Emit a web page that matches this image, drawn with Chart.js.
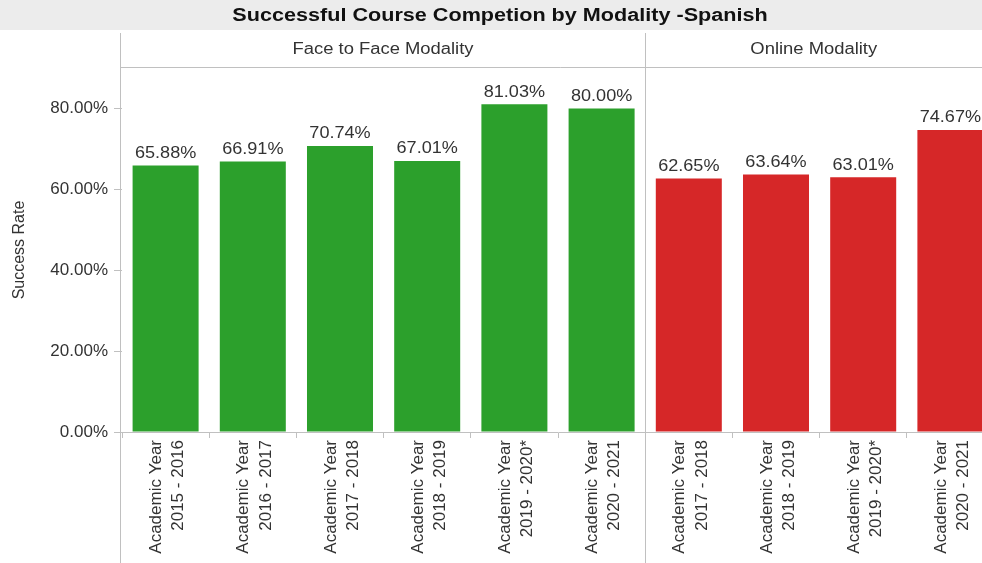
<!DOCTYPE html>
<html>
<head>
<meta charset="utf-8">
<script src="https://cdn.jsdelivr.net/npm/chart.js@4.4.1/dist/chart.umd.min.js"></script>
<style>
  html, body { margin: 0; padding: 0; background: #fff; overflow: hidden; }
  #wrap { width: 982px; height: 563px; overflow: hidden; position: relative; }
  canvas { position: absolute; left: 0; top: 0; }
</style>
</head>
<body>
<div id="wrap"><canvas id="myChart" width="1000" height="563"></canvas></div>
<script>
// chart data
const chartTitle = 'Successful Course Competion by Modality -Spanish';
const panelNames = ['Face to Face Modality', 'Online Modality'];
const faceYears = [
  ['Academic Year', '2015 - 2016'],
  ['Academic Year', '2016 - 2017'],
  ['Academic Year', '2017 - 2018'],
  ['Academic Year', '2018 - 2019'],
  ['Academic Year', '2019 - 2020*'],
  ['Academic Year', '2020 - 2021']
];
const faceRates = [65.88, 66.91, 70.74, 67.01, 81.03, 80.00];
const onlineYears = [
  ['Academic Year', '2017 - 2018'],
  ['Academic Year', '2018 - 2019'],
  ['Academic Year', '2019 - 2020*'],
  ['Academic Year', '2020 - 2021']
];
const onlineRates = [62.65, 63.64, 63.01, 74.67];
const yTicks = [0, 20, 40, 60, 80];

const faceColor = '#2ca02c';
const onlineColor = '#d62728';
const lineColor = '#c0c0c0';
const textColor = '#333333';
const fontFamily = 'Arial, "Liberation Sans", Helvetica, sans-serif';

const labels = faceYears.concat(onlineYears);
const values = faceRates.concat(onlineRates);
const colors = faceRates.map(() => faceColor).concat(onlineRates.map(() => onlineColor));

// text a little wider than the font, like the source picture
function wideText(ctx, text, x, y, sx) {
  ctx.save();
  ctx.translate(x, y);
  ctx.scale(sx, 1);
  ctx.fillText(text, 0, 0);
  ctx.restore();
}

// title band, panel headers, panel borders and value labels
const panelPlugin = {
  id: 'panels',
  beforeDraw(chart) {
    const ctx = chart.ctx;
    const area = chart.chartArea;
    const x = chart.scales.x;
    const sep = Math.round((x.getPixelForValue(faceRates.length - 1) + x.getPixelForValue(faceRates.length)) / 2) + 0.5;
    const left = 120.5;
    ctx.save();
    ctx.fillStyle = '#fff';
    ctx.fillRect(0, 0, chart.width, chart.height);
    ctx.fillStyle = '#ececec';
    ctx.fillRect(0, 0, chart.width, 30);
    ctx.fillStyle = '#111';
    ctx.font = 'bold 18px ' + fontFamily;
    ctx.textAlign = 'center';
    ctx.textBaseline = 'middle';
    wideText(ctx, chartTitle, 500, 16, 1.2);

    ctx.font = '16px ' + fontFamily;
    ctx.fillStyle = textColor;
    wideText(ctx, panelNames[0], (left + sep) / 2, 50, 1.15);
    wideText(ctx, panelNames[1], (sep + 982) / 2, 50, 1.15);

    ctx.strokeStyle = lineColor;
    ctx.lineWidth = 1;
    ctx.beginPath();
    ctx.moveTo(left, 33);
    ctx.lineTo(left, chart.height);
    ctx.moveTo(sep, 33);
    ctx.lineTo(sep, chart.height);
    ctx.moveTo(left, Math.round(area.top) - 0.5);
    ctx.lineTo(chart.width, Math.round(area.top) - 0.5);
    ctx.stroke();
    ctx.restore();
  },
  afterDatasetsDraw(chart) {
    const ctx = chart.ctx;
    const meta = chart.getDatasetMeta(0);
    ctx.save();
    ctx.font = '16px ' + fontFamily;
    ctx.fillStyle = textColor;
    ctx.textAlign = 'center';
    ctx.textBaseline = 'bottom';
    meta.data.forEach((bar, i) => {
      wideText(ctx, values[i].toFixed(2) + '%', bar.x, bar.y - 4, 1.13);
    });
    ctx.restore();
  }
};

new Chart(document.getElementById('myChart'), {
  type: 'bar',
  data: {
    labels: labels,
    datasets: [{
      data: values,
      backgroundColor: colors,
      borderWidth: 0,
      barPercentage: 0.757,
      categoryPercentage: 1
    }]
  },
  options: {
    responsive: false,
    animation: false,
    devicePixelRatio: 1,
    layout: { padding: { top: 68, right: 6, left: 0, bottom: 0 } },
    plugins: {
      legend: { display: false },
      tooltip: { enabled: false }
    },
    scales: {
      x: {
        afterFit(scale) { scale.height = 131; },
        grid: {
          display: true,
          drawOnChartArea: false,
          offset: true,
          color: lineColor,
          tickLength: 6
        },
        border: { display: true, color: lineColor },
        ticks: {
          autoSkip: false,
          maxRotation: 90,
          minRotation: 90,
          padding: 2,
          labelOffset: -9,
          color: textColor,
          font: { family: fontFamily, size: 17, lineHeight: 1.3 }
        }
      },
      y: {
        min: 0,
        max: 90,
        afterFit(scale) { scale.width = 122; },
        afterBuildTicks(scale) {
          scale.ticks = yTicks.map(v => ({ value: v }));
        },
        grid: {
          display: true,
          drawOnChartArea: false,
          color: lineColor,
          tickLength: 8
        },
        border: { display: false },
        ticks: {
          padding: 6,
          color: textColor,
          font: { family: fontFamily, size: 17 },
          callback: v => v.toFixed(2) + '%'
        },
        title: {
          display: true,
          text: 'Success Rate',
          color: textColor,
          font: { family: fontFamily, size: 16 },
          padding: { top: 10, bottom: 4 }
        }
      }
    }
  },
  plugins: [panelPlugin]
});
</script>
</body>
</html>
